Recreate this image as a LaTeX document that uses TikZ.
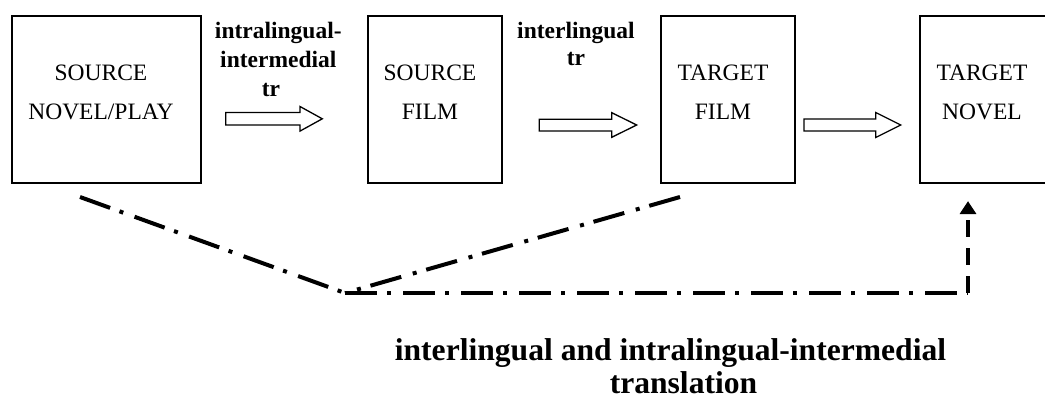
\documentclass[tikz,border=0pt]{standalone}
\usepackage{fontspec}
\setmainfont{Liberation Serif}
\usetikzlibrary{arrows.meta}
\begin{document}
\begin{tikzpicture}[x=1pt,y=-1pt,
  box/.style={draw, line width=2.2pt, inner sep=0pt},
  boxtext/.style={font=\fontsize{23.5}{28}\selectfont, anchor=base, inner sep=0pt},
  trlabel/.style={font=\bfseries\fontsize{23.5}{28}\selectfont, anchor=base, inner sep=0pt},
  titletext/.style={font=\bfseries\fontsize{31.6}{36}\selectfont, anchor=base, inner sep=0pt},
  fat/.style={draw, line width=1.3pt, line join=miter},
  dashdot/.style={line width=4pt, dash pattern=on 32pt off 10pt on 4pt off 12pt},
  dashup/.style={line width=4pt, dash pattern=on 17pt off 11pt,
                 -{Triangle[length=13pt,width=16pt]}},
]
\useasboundingbox (0,0) rectangle (1045,398);
\clip (0,0) rectangle (1045,398);

% the four stages
\node[box, minimum width=189pt, minimum height=167pt] (b1) at (106.5,99.5) {};
\node[box, minimum width=134pt, minimum height=167pt] (b2) at (435,99.5) {};
\node[box, minimum width=134pt, minimum height=167pt] (b3) at (728,99.5) {};
\node[box, minimum width=132pt, minimum height=167pt] (b4) at (986,99.5) {};

\node[boxtext] (b1a) at (101,81) {SOURCE};
\node[boxtext] (b1b) at (101,120) {NOVEL/PLAY};
\node[boxtext] (b2a) at (430,81) {SOURCE};
\node[boxtext] (b2b) at (430,120) {FILM};
\node[boxtext] (b3a) at (723,81) {TARGET};
\node[boxtext] (b3b) at (723,120) {FILM};
\node[boxtext] (b4a) at (982,81) {TARGET};
\node[boxtext] (b4b) at (982,120) {NOVEL};

% labels of the translation steps
\node[trlabel] (l1a) at (278.3,39) {intralingual-};
\node[trlabel] (l1b) at (278.3,68) {intermedial};
\node[trlabel] (l1c) at (271,97) {tr};
\node[trlabel] (l2a) at (576,39) {interlingual};
\node[trlabel] (l2b) at (576,66) {tr};

% hollow block arrows
\draw[fat] (225.7,112.5) -- (300,112.5) -- (300,106.5) -- (322.3,118.8)
  -- (300,131.1) -- (300,125) -- (225.7,125) -- cycle;
\draw[fat] (539.3,119.3) -- (611.7,119.3) -- (611.7,112.7) -- (636.7,125)
  -- (611.7,137.3) -- (611.7,131) -- (539.3,131) -- cycle;
\draw[fat] (804,119) -- (875.7,119) -- (875.7,112.5) -- (900.7,125)
  -- (875.7,137.5) -- (875.7,131) -- (804,131) -- cycle;

% combined route
\coordinate (p1) at (80,197);
\coordinate (p2) at (680,197);
\coordinate (v) at (345,293);
\coordinate (c) at (968,293);
\draw[dashdot] (p1) -- (v);
\draw[dashdot] (p2) -- (v);
\draw[dashdot] (v) -- (c);
\draw[dashup, shorten >=17pt] (c) -- (c |- b4.south);

\node[titletext] (t1) at (670.5,360) {interlingual and intralingual-intermedial};
\node[titletext] (t2) at (683.5,393) {translation};
\end{tikzpicture}
\end{document}
